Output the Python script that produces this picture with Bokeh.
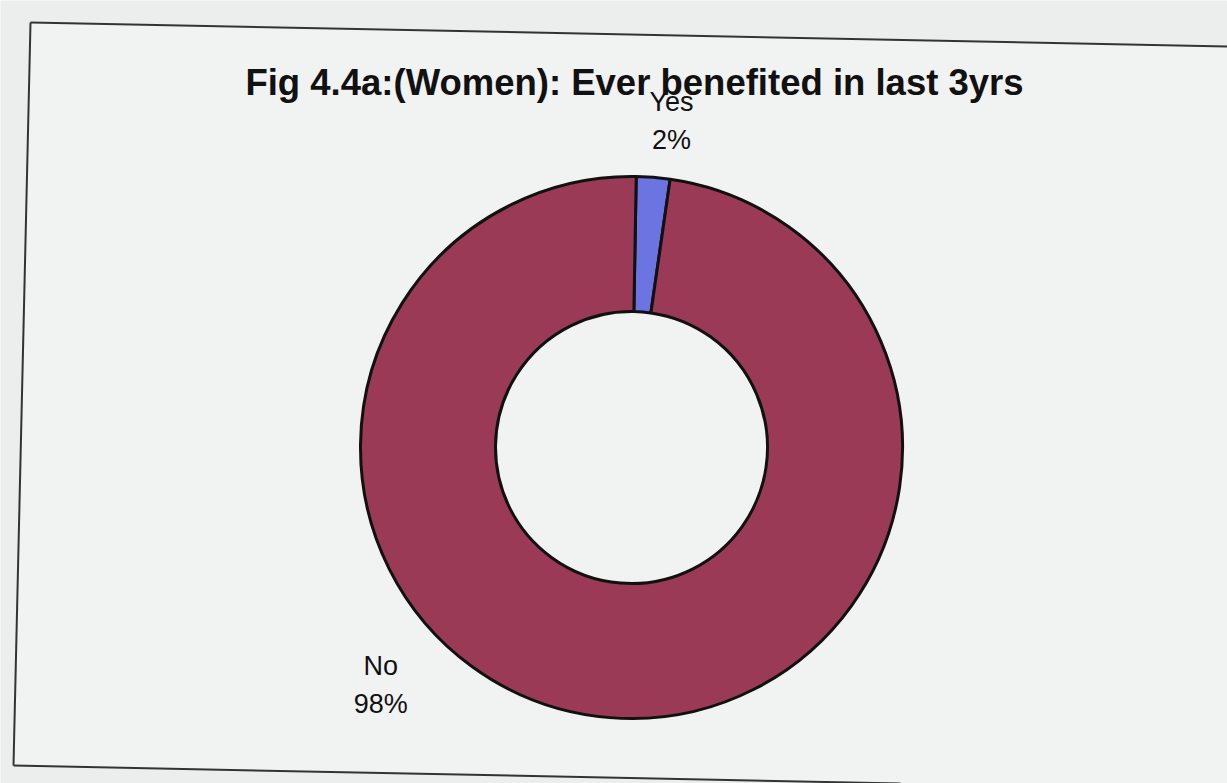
import math
from bokeh.plotting import figure
from bokeh.models import Range1d, ColumnDataSource
from bokeh.core.properties import value
from bokeh.embed import file_html
from bokeh.resources import INLINE

# ---- data ----
title = "Fig 4.4a:(Women): Ever benefited in last 3yrs"
categories = ["Yes", "No"]
percent = [2, 98]
colors = ["#6b74e0", "#9a3a57"]

# ---- layout (image pixel coordinates, y downward) ----
W, H = 1227, 783
cx, cy = 631, 447
r_out, r_in = 271, 136
rot_deg = 1.0                      # slight scan rotation (clockwise)
label_angle_deg = [83.0, -136.6]   # label direction from centre (math convention)
label_r = [329, 345]

def Y(y):
    return H - y

p = figure(width=W, height=H, output_backend="svg", toolbar_location=None,
           x_range=Range1d(0, W), y_range=Range1d(0, H),
           min_border=0, background_fill_color="#eceeee",
           border_fill_color="#eceeee", outline_line_color=None)
p.axis.visible = False
p.grid.visible = False

# paper / frame
p.patch([30, W, W, 900, 13], [Y(22), Y(46), Y(H), Y(H), Y(765)],
        fill_color="#f1f2f2", line_color=None)
p.multi_line([[30, W], [30, 13], [13, 900]],
             [[Y(22), Y(46)], [Y(22), Y(765)], [Y(765), Y(783)]],
             line_color="#333333", line_width=2)

# donut: slices clockwise from 12 o'clock
total = sum(percent)
starts, ends = [], []
cum = 0.0
top = math.pi / 2 - math.radians(rot_deg)
for v in percent:
    a0 = top - 2 * math.pi * cum / total
    a1 = top - 2 * math.pi * (cum + v) / total
    starts.append(a1)
    ends.append(a0)
    cum += v

src = ColumnDataSource(dict(start=starts, end=ends, color=colors, cat=categories))
p.annular_wedge(x=cx, y=Y(cy), inner_radius=r_in, outer_radius=r_out,
                start_angle="start", end_angle="end", source=src,
                fill_color="color", line_color="#111111", line_width=3)

# labels
lx, ly_name, ly_pct, names, pcts = [], [], [], [], []
for c, v, a, r in zip(categories, percent, label_angle_deg, label_r):
    x = cx + r * math.cos(math.radians(a))
    y = cy - r * math.sin(math.radians(a))
    lx.append(x)
    ly_name.append(Y(y - 19))
    ly_pct.append(Y(y + 19))
    names.append(c)
    pcts.append(f"{v}%")

p.text(x=lx, y=ly_name, text=names, text_font=value("Liberation Sans"),
       text_font_size="27px", text_color="#111111",
       text_align="center", text_baseline="middle")
p.text(x=lx, y=ly_pct, text=pcts, text_font=value("Liberation Sans"),
       text_font_size="27px", text_color="#111111",
       text_align="center", text_baseline="middle")

# title
p.text(x=[634], y=[Y(82)], text=[title], text_font=value("Liberation Sans"),
       text_font_style="bold", text_font_size="36.5px", text_color="#111111",
       text_align="center", text_baseline="alphabetic")

open("out.html", "w").write(file_html(p, INLINE))
